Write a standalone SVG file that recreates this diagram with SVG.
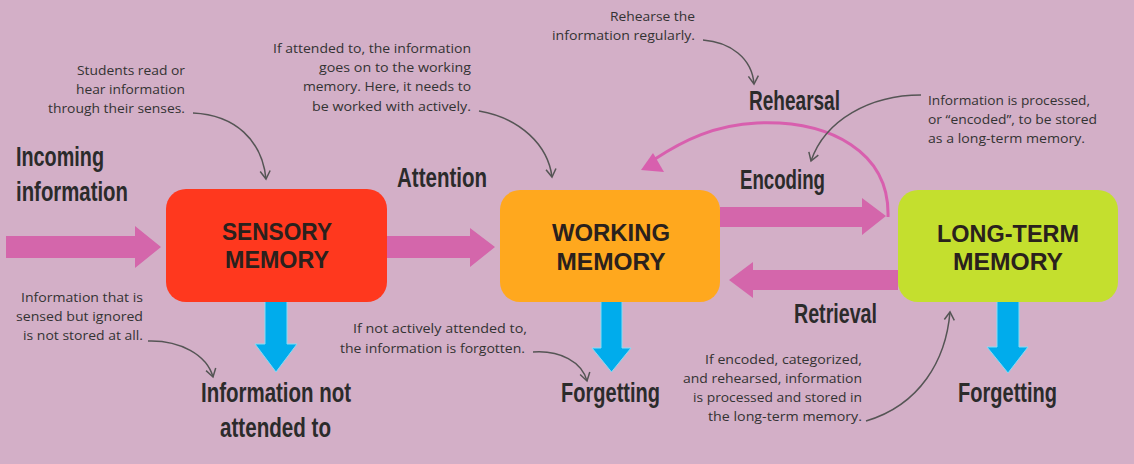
<svg xmlns="http://www.w3.org/2000/svg" width="1134" height="464" viewBox="0 0 1134 464">
<defs>
<style>
.bg{fill:#d3afc7}
.big{font-family:"Liberation Sans Narrow","Liberation Sans",Arial,sans-serif;font-weight:bold;font-size:27px;fill:#2b2b2b}
.small{font-family:"Open Sans","Liberation Sans",Arial,sans-serif;font-size:13.5px;fill:#333}
.box{font-family:"Liberation Sans",Arial,sans-serif;font-weight:bold;font-size:23px;fill:#2a211d;text-anchor:middle}
.pink{fill:#d466ab}
.blue{fill:#00acec;stroke:#86dcf6;stroke-width:1}
.call{fill:none;stroke:#555;stroke-width:1.5}
</style>
<marker id="v" markerUnits="userSpaceOnUse" markerWidth="20" markerHeight="20" refX="0" refY="0" viewBox="-10 -10 20 20" orient="auto" overflow="visible">
<path d="M -8 -5 L 0 0 L -8 5" fill="none" stroke="#555" stroke-width="1.5"/>
</marker>
</defs>
<rect class="bg" x="0" y="0" width="1134" height="464"/>

<g id="connectors">
<polygon class="pink" points="6,236 135,236 135,226 161,247 135,268 135,258 6,258"/>
<polygon class="pink" points="387,236 470,236 470,228 495,247 470,267 470,258 387,258"/>
<polygon class="pink" points="720,207 862,207 862,198 886,216 862,235 862,227 720,227"/>
<polygon class="pink" points="898,270 753,270 753,262 729,280 753,298 753,290 898,290"/>
<path d="M 888 217 C 890 152, 830 120, 757 123 C 715 125, 684 140, 655 159" fill="none" stroke="#d85fae" stroke-width="3"/>
<polygon fill="#d85fae" points="641,170 653,153 664,172"/>
<polygon class="blue" points="265,301 287,301 287,344 297,344 276,372 255,344 265,344"/>
<polygon class="blue" points="601,301 622,301 622,348 631,348 611.5,372 592,348 601,348"/>
<polygon class="blue" points="997,301 1019,301 1019,347 1028,347 1008,373 987,347 997,347"/>
<path class="call" marker-end="url(#v)" d="M 193 113 C 235 115, 262 140, 266 179"/>
<path class="call" marker-end="url(#v)" d="M 479 111 C 520 118, 548 145, 552 177"/>
<path class="call" marker-end="url(#v)" d="M 703 40 C 730 42, 752 58, 754 84"/>
<path class="call" marker-end="url(#v)" d="M 921 95 C 870 95, 825 120, 811 161"/>
<path class="call" marker-end="url(#v)" d="M 148 341 C 180 340, 207 355, 213 377"/>
<path class="call" marker-end="url(#v)" d="M 533 352 C 560 350, 582 362, 587 381"/>
<path class="call" marker-end="url(#v)" d="M 866 421 C 920 405, 946 360, 950 312"/>
</g>

<g id="sensory-memory">
<rect x="166" y="189" width="221" height="113" rx="20" fill="#ff381e"/>
<text class="box" x="277" y="240" textLength="110" lengthAdjust="spacingAndGlyphs">SENSORY</text>
<text class="box" x="277" y="268" textLength="104" lengthAdjust="spacingAndGlyphs">MEMORY</text>
</g>
<g id="working-memory">
<rect x="500" y="190" width="220" height="112" rx="20" fill="#ffa81e"/>
<text class="box" x="611" y="241" textLength="118" lengthAdjust="spacingAndGlyphs">WORKING</text>
<text class="box" x="611" y="270" textLength="109" lengthAdjust="spacingAndGlyphs">MEMORY</text>
</g>
<g id="long-term-memory">
<rect x="898" y="190" width="220" height="112" rx="20" fill="#c4df2e"/>
<text class="box" x="1008" y="242" textLength="142" lengthAdjust="spacingAndGlyphs">LONG-TERM</text>
<text class="box" x="1008" y="270" textLength="110" lengthAdjust="spacingAndGlyphs">MEMORY</text>
</g>

<g id="labels">
<text class="big" x="16" y="166" textLength="88" lengthAdjust="spacingAndGlyphs">Incoming</text>
<text class="big" x="16" y="201" textLength="112" lengthAdjust="spacingAndGlyphs">information</text>
<text class="big" x="397" y="187" textLength="90" lengthAdjust="spacingAndGlyphs">Attention</text>
<text class="big" x="749" y="110" textLength="91" lengthAdjust="spacingAndGlyphs">Rehearsal</text>
<text class="big" x="740" y="189" textLength="85" lengthAdjust="spacingAndGlyphs">Encoding</text>
<text class="big" x="794" y="323" textLength="83" lengthAdjust="spacingAndGlyphs">Retrieval</text>
<text class="big" x="561" y="402" textLength="99" lengthAdjust="spacingAndGlyphs">Forgetting</text>
<text class="big" x="958" y="402" textLength="99" lengthAdjust="spacingAndGlyphs">Forgetting</text>
<text class="big" x="201" y="402" textLength="150" lengthAdjust="spacingAndGlyphs">Information not</text>
<text class="big" x="220" y="437" textLength="111" lengthAdjust="spacingAndGlyphs">attended to</text>
</g>

<g id="notes" text-anchor="end">
<text class="small" x="185" y="75" textLength="108" lengthAdjust="spacingAndGlyphs">Students read or</text>
<text class="small" x="185" y="94" textLength="109" lengthAdjust="spacingAndGlyphs">hear information</text>
<text class="small" x="185" y="113" textLength="137" lengthAdjust="spacingAndGlyphs">through their senses.</text>

<text class="small" x="471" y="53" textLength="198" lengthAdjust="spacingAndGlyphs">If attended to, the information</text>
<text class="small" x="471" y="72" textLength="152" lengthAdjust="spacingAndGlyphs">goes on to the working</text>
<text class="small" x="471" y="91" textLength="168" lengthAdjust="spacingAndGlyphs">memory. Here, it needs to</text>
<text class="small" x="471" y="111" textLength="159" lengthAdjust="spacingAndGlyphs">be worked with actively.</text>

<text class="small" x="695" y="21" textLength="85" lengthAdjust="spacingAndGlyphs">Rehearse the</text>
<text class="small" x="695" y="40" textLength="143" lengthAdjust="spacingAndGlyphs">information regularly.</text>

<text class="small" x="143" y="302" textLength="122" lengthAdjust="spacingAndGlyphs">Information that is</text>
<text class="small" x="143" y="321" textLength="127" lengthAdjust="spacingAndGlyphs">sensed but ignored</text>
<text class="small" x="143" y="340" textLength="120" lengthAdjust="spacingAndGlyphs">is not stored at all.</text>

<text class="small" x="527" y="333" textLength="174" lengthAdjust="spacingAndGlyphs">If not actively attended to,</text>
<text class="small" x="525" y="353" textLength="185" lengthAdjust="spacingAndGlyphs">the information is forgotten.</text>

<text class="small" x="862" y="364" textLength="157" lengthAdjust="spacingAndGlyphs">If encoded, categorized,</text>
<text class="small" x="862" y="383" textLength="179" lengthAdjust="spacingAndGlyphs">and rehearsed, information</text>
<text class="small" x="862" y="402" textLength="169" lengthAdjust="spacingAndGlyphs">is processed and stored in</text>
<text class="small" x="862" y="421" textLength="154" lengthAdjust="spacingAndGlyphs">the long-term memory.</text>
</g>
<g id="notes-left">
<text class="small" x="928" y="105" textLength="162" lengthAdjust="spacingAndGlyphs">Information is processed,</text>
<text class="small" x="928" y="124" textLength="169" lengthAdjust="spacingAndGlyphs">or “encoded”, to be stored</text>
<text class="small" x="928" y="143" textLength="157" lengthAdjust="spacingAndGlyphs">as a long-term memory.</text>
</g>
</svg>
